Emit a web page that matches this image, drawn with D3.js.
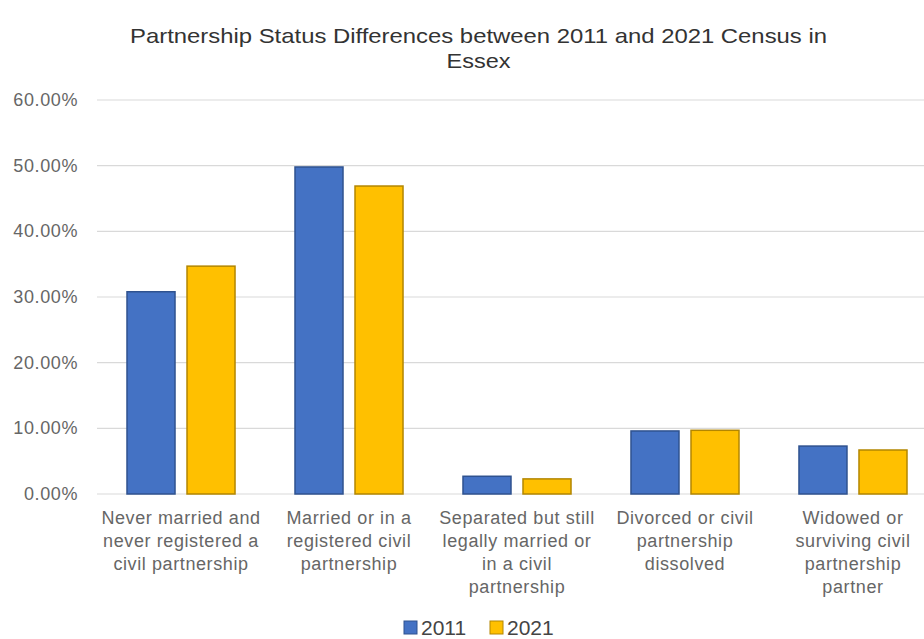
<!DOCTYPE html>
<html><head><meta charset="utf-8">
<script src="https://cdn.jsdelivr.net/npm/d3@7"></script>
<style>body{margin:0;background:#fff;}svg{display:block;font-family:"Liberation Sans",Arial,sans-serif;}</style>
</head><body><svg id="c" width="924" height="639"></svg>
<script>
const categories = [
  ["Never married and","never registered a","civil partnership"],
  ["Married or in a","registered civil","partnership"],
  ["Separated but still","legally married or","in a civil","partnership"],
  ["Divorced or civil","partnership","dissolved"],
  ["Widowed or","surviving civil","partnership","partner"]
];
const series = ["2011","2021"];
const values2011 = [0.308, 0.498, 0.027, 0.096, 0.073];
const values2021 = [0.347, 0.469, 0.023, 0.097, 0.067];
const yTicks = [0, 0.1, 0.2, 0.3, 0.4, 0.5, 0.6];
const titleLines = ["Partnership Status Differences between 2011 and 2021 Census in","Essex"];

const fills = {"2011":"#4472C4","2021":"#FFC000"};
const strokes = {"2011":"#2F528F","2021":"#B38600"};
const svg = d3.select("#c");
const x0 = d3.scaleBand().domain(d3.range(categories.length)).range([97,937]).paddingInner(0.357).paddingOuter(0.1786);
const x1 = d3.scaleBand().domain(series).range([0,x0.bandwidth()]).paddingInner(0.2);
const y = d3.scaleLinear().domain([0,0.6]).range([494,100]);

// gridlines
svg.append("g").selectAll("line").data(yTicks).join("line")
  .attr("x1",97).attr("x2",924).attr("y1",d=>y(d)).attr("y2",d=>y(d))
  .attr("stroke","#d9d9d9").attr("stroke-width",1.2);
// y labels
svg.append("g").selectAll("text").data(yTicks).join("text")
  .attr("x",78).attr("y",d=>y(d)+6).attr("text-anchor","end")
  .attr("font-size",18).attr("letter-spacing",0.6).attr("fill","#666")
  .text(d=>d3.format(".2%")(d));

const data = categories.map((c,i)=>({i, vals:[{s:"2011",v:values2011[i]},{s:"2021",v:values2021[i]}]}));
const g = svg.append("g").selectAll("g").data(data).join("g").attr("transform",d=>`translate(${x0(d.i)},0)`);
g.selectAll("rect").data(d=>d.vals).join("rect")
  .attr("x",d=>x1(d.s)).attr("width",x1.bandwidth())
  .attr("y",d=>y(d.v)).attr("height",d=>y(0)-y(d.v))
  .attr("fill",d=>fills[d.s]).attr("stroke",d=>strokes[d.s]).attr("stroke-width",1.5);

// x labels
svg.append("g").selectAll("text").data(categories).join("text")
  .attr("x",(d,i)=>x0(i)+x0.bandwidth()/2).attr("y",524)
  .attr("text-anchor","middle").attr("font-size",18).attr("letter-spacing",0.6).attr("fill","#666")
  .each(function(d){
    d3.select(this).selectAll("tspan").data(d).join("tspan")
      .attr("x",d3.select(this).attr("x")).attr("dy",(t,j)=>j===0?0:23).text(t=>t);
  });

// title
const titleLen = [697, 64];
svg.append("g").selectAll("text").data(titleLines).join("text")
  .attr("x",478.5).attr("y",(d,i)=>43+i*25).attr("text-anchor","middle")
  .attr("font-size",21).attr("fill","#333")
  .attr("textLength",(d,i)=>titleLen[i]).attr("lengthAdjust","spacingAndGlyphs").text(d=>d);

// legend
const legendX = [404, 490];
const lg = svg.append("g").selectAll("g").data(series).join("g")
  .attr("transform",(d,i)=>`translate(${legendX[i]},621)`);
lg.append("rect").attr("width",13).attr("height",13).attr("fill",d=>fills[d]).attr("stroke",d=>strokes[d]).attr("stroke-width",1);
lg.append("text").attr("x",17).attr("y",14).attr("font-size",21).attr("fill","#444").text(d=>d);
</script></body></html>
